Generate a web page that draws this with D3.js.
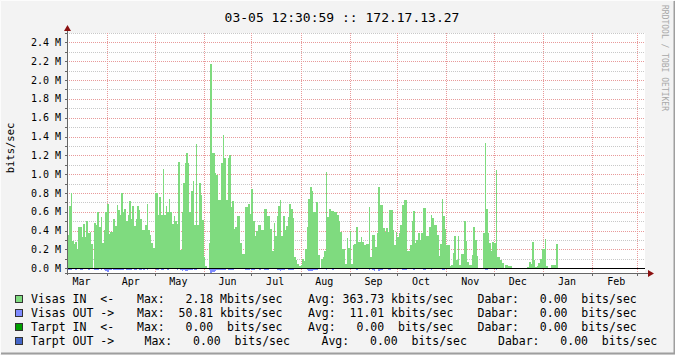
<!DOCTYPE html>
<html>
<head>
<meta charset="utf-8">
<script src="https://cdn.jsdelivr.net/npm/d3@7"></script>
<style>
body { margin: 0; background: #f3f3f3; }
svg { display: block; }
text { font-family: "DejaVu Sans Mono", monospace; }
</style>
</head>
<body>
<svg id="chart" width="675" height="355"></svg>
<script>
// daily averages in Mbit/s, one line per month, starting Mar 5
const visasIn = [
    0.35, 0.35, 0.35, 0.66, 0.80, 0.29, 0.26, 0.28, 0.21, 0.44, 0.44, 0.33, 0.47, 0.33, 0.50, 0.37, 0.39, 0.26, 0, 0.48, 0.46, 0.60, 0.44, 0.54, 0.27, 0.41, 0.60,
    0.68, 0.36, 0.39, 0.39, 0.52, 0.45, 0.67, 0.62, 0.57, 0.80, 0.60, 0.63, 0.50, 0.57, 0.72, 0.52, 0.66, 0.45, 0.52, 0.66, 0.62, 0.52, 0.41, 0.41, 0.46, 0.68, 0.41, 0.35, 0.27, 0.22,
    0.80, 0.80, 0.57, 0.76, 0.57, 1.05, 0.57, 0.66, 0.60, 0.74, 0.60, 0.47, 0.56, 0.50, 0.47, 1.13, 0.19, 0.60, 0.91, 1.12, 1.22, 1.12, 0.60, 0.82, 0.93, 0.46, 1.32, 0.46, 0.91, 0.78, 0.51,
    0.12, 0.02, 0, 0.27, 2.17, 1.22, 1.22, 1.01, 0.99, 0.73, 0.73, 1.12, 1.42, 1.17, 0.73, 1.17, 1.20, 0.65, 0.71, 0.42, 0.44, 0.56, 0.56, 0.27, 0.15, 0.15, 0.65, 0.65, 0.68, 0.58,
    0.84, 0.50, 0.34, 0.40, 0.46, 0.46, 0.41, 0.41, 0.63, 0.63, 0.56, 0.56, 0.42, 0.18, 0.48, 0.34, 0.56, 0.66, 0.73, 0.34, 0.56, 0.41, 0.45, 0.54, 0.68, 0.63, 0.53, 0.12, 0.09, 0.05, 0.02,
    0.03, 0.10, 0.08, 0.20, 0.44, 0.74, 0.86, 0.82, 0.60, 0.60, 0.70, 0.14, 0, 0.10, 0.12, 0.18, 1.02, 0.54, 0.63, 0.61, 0.61, 0.60, 0.60, 0.57, 0.50, 0.39, 0.20, 0.20, 0.05, 0.32, 0.22,
    0.40, 0.05, 0.25, 0.26, 0.44, 0.28, 0.28, 0.33, 0.28, 0.25, 0.26, 0.26, 0.65, 0.12, 0.35, 0.35, 0.23, 0.38, 0.86, 0.67, 0.67, 0.43, 0.39, 0.43, 0.39, 0.62, 0.62, 0.41, 0.25, 0.39,
    0.33, 0.37, 0.46, 0.67, 0.73, 0.73, 0.18, 0.18, 0.25, 0.50, 0.61, 0.27, 0.30, 0.37, 0.30, 0.37, 0.64, 0.64, 0.34, 0.34, 0.44, 0.57, 0.53, 0.46, 0.46, 0.35, 0.13, 0.26, 0.74, 0.56, 0.42,
    0.25, 0.25, 0.02, 0.04, 0.16, 0.34, 0.09, 0.34, 0.04, 0.15, 0.15, 0.50, 0.29, 0.07, 0.04, 0.04, 0.14, 0.44, 0.30, 0.13, 0, 0, 0, 0.37, 1.33, 0.63, 0.37, 0.27, 0.18, 0.28,
    0.27, 1.04, 0.12, 0.12, 0.09, 0.06, 0, 0.04, 0.04, 0.02, 0.02, 0, 0, 0, 0, 0, 0, 0, 0, 0, 0, 0.01, 0.07, 0.05, 0.28, 0.09, 0.01, 0.02, 0.06, 0.10, 0.21,
    0.21, 0.31, 0.02, 0, 0, 0.03, 0.03, 0.03, 0.26, 0
];
const visasOut = [
    0.015, 0.015, 0.018, 0.02, 0.015, 0.01, 0.012, 0.015, 0.008, 0.012, 0.015, 0.015, 0.01, 0.012, 0.01, 0.015, 0.012, 0.01, 0, 0.015, 0.015, 0.018, 0.012, 0.015, 0.012, 0.018, 0.03,
    0.035, 0.02, 0.015, 0.012, 0.018, 0.02, 0.015, 0.018, 0.02, 0.015, 0.018, 0.012, 0.015, 0.02, 0.018, 0.015, 0.012, 0.018, 0.02, 0.012, 0.015, 0.018, 0.012, 0.015, 0.01, 0.015, 0.012, 0.01, 0.012, 0.008,
    0.012, 0.02, 0.015, 0.012, 0.018, 0.015, 0.012, 0.01, 0.015, 0.012, 0.01, 0.012, 0.008, 0.01, 0.015, 0.008, 0.018, 0.025, 0.02, 0.03, 0.025, 0.02, 0.018, 0.015, 0.012, 0.02, 0.015, 0.012, 0.01, 0.008, 0.005,
    0.005, 0.005, 0, 0.02, 0.05, 0.035, 0.04, 0.03, 0.02, 0.015, 0.015, 0.018, 0.02, 0.018, 0.012, 0.015, 0.02, 0.015, 0.015, 0.012, 0.01, 0.012, 0.012, 0.01, 0.008, 0.008, 0.015, 0.015, 0.015, 0.012,
    0.02, 0.015, 0.012, 0.012, 0.012, 0.015, 0.012, 0.01, 0.015, 0.02, 0.015, 0.012, 0.01, 0.008, 0.012, 0.01, 0.015, 0.02, 0.025, 0.015, 0.015, 0.012, 0.012, 0.015, 0.02, 0.018, 0.015, 0.008, 0.005, 0.005, 0.005,
    0.005, 0.005, 0.005, 0.008, 0.015, 0.025, 0.03, 0.025, 0.02, 0.015, 0.018, 0.01, 0, 0.005, 0.005, 0.008, 0.02, 0.012, 0.012, 0.012, 0.015, 0.012, 0.012, 0.01, 0.01, 0.008, 0.005, 0.005, 0.003, 0.008, 0.005,
    0.008, 0.003, 0.008, 0.008, 0.015, 0.01, 0.008, 0.01, 0.008, 0.008, 0.008, 0.008, 0.015, 0.005, 0.02, 0.03, 0.008, 0.012, 0.025, 0.018, 0.015, 0.01, 0.012, 0.012, 0.02, 0.015, 0.012, 0.01, 0.008, 0.01,
    0.012, 0.01, 0.012, 0.015, 0.02, 0.02, 0.008, 0.008, 0.008, 0.012, 0.02, 0.008, 0.008, 0.01, 0.008, 0.01, 0.015, 0.015, 0.008, 0.008, 0.012, 0.015, 0.012, 0.012, 0.012, 0.01, 0.005, 0.008, 0.015, 0.015, 0.012,
    0.008, 0.008, 0.003, 0.003, 0.005, 0.01, 0.003, 0.01, 0.003, 0.005, 0.005, 0.012, 0.008, 0.003, 0.003, 0.003, 0.005, 0.012, 0.01, 0.005, 0, 0, 0, 0.012, 0.02, 0.015, 0.01, 0.008, 0.008, 0.01,
    0.008, 0.02, 0.005, 0.005, 0.003, 0.003, 0, 0, 0, 0, 0, 0, 0, 0, 0, 0, 0, 0, 0, 0, 0, 0, 0, 0, 0.005, 0, 0, 0, 0, 0.005, 0.01,
    0.012, 0.01, 0, 0, 0, 0, 0, 0, 0.003, 0
];
const monthLabels = ["Mar", "Apr", "May", "Jun", "Jul", "Aug", "Sep", "Oct", "Nov", "Dec", "Jan", "Feb"];
const yTicks = [0, 0.2, 0.4, 0.6, 0.8, 1.0, 1.2, 1.4, 1.6, 1.8, 2.0, 2.2, 2.4];
const yMinor = [0.1, 0.3, 0.5, 0.7, 0.9, 1.1, 1.3, 1.5, 1.7, 1.9, 2.1, 2.3, 2.5];

const legendLabels = ["Visas IN  <-", "Visas OUT ->", "Tarpt IN  <-", "Tarpt OUT ->"];
const legendColors = ["#7fdb7f", "#7f8bff", "#00a000", "#4466c8"];
const legendMax = ["Max:   2.18 Mbits/sec", "Max:  50.81 kbits/sec", "Max:   0.00  bits/sec", "Max:   0.00  bits/sec"];
const legendAvg = ["Avg: 363.73 kbits/sec", "Avg:  11.01 kbits/sec", "Avg:   0.00  bits/sec", "Avg:   0.00  bits/sec"];
const legendDabar = ["Dabar:   0.00  bits/sec", "Dabar:   0.00  bits/sec", "Dabar:   0.00  bits/sec", "Dabar:   0.00  bits/sec"];

const startDay = Date.UTC(2012, 2, 5);
const plot = { left: 67, right: 645, top: 33, bottom: 273 };

const svg = d3.select("#chart");

const x = d3.scaleUtc()
    .domain([new Date(Date.UTC(2012, 2, 5, 12, 30, 59)), new Date(Date.UTC(2013, 2, 5, 12, 30, 59))])
    .range([65, 644]);
const y = d3.scaleLinear().domain([-0.05, 2.5]).range([plot.bottom, plot.top]);

// keep runs of spaces in the monospace texts
const keep = s => s.replace(/ /g, "\u00a0");

// background and 3d frame
svg.append("rect").attr("width", 675).attr("height", 355).attr("fill", "#f3f3f3");
svg.append("path").attr("d", "M0.5,354V0.5H674").attr("stroke", "#fcfcfc").attr("fill", "none");
svg.append("path").attr("d", "M1,353.5H674.5V1").attr("stroke", "#9e9e9e").attr("stroke-width", 2).attr("fill", "none");

svg.append("rect")
    .attr("x", plot.left).attr("y", plot.top)
    .attr("width", plot.right - plot.left).attr("height", plot.bottom - plot.top)
    .attr("fill", "#fff");

svg.append("clipPath").attr("id", "clip")
    .append("rect")
    .attr("x", plot.left).attr("y", plot.top)
    .attr("width", plot.right - plot.left).attr("height", plot.bottom - plot.top);

// grid
const grid = svg.append("g").attr("shape-rendering", "crispEdges");
grid.selectAll(".minor")
    .data(yMinor)
    .enter().append("line")
    .attr("x1", plot.left).attr("x2", plot.right)
    .attr("y1", d => Math.round(y(d)) + 0.5).attr("y2", d => Math.round(y(d)) + 0.5)
    .attr("stroke", "#c8c8c8").attr("stroke-dasharray", "1,1");
grid.selectAll(".major")
    .data(yTicks.slice(1))
    .enter().append("line")
    .attr("x1", plot.left).attr("x2", plot.right)
    .attr("y1", d => Math.round(y(d)) + 0.5).attr("y2", d => Math.round(y(d)) + 0.5)
    .attr("stroke", "#e89a9a").attr("stroke-dasharray", "1,1");

const monthStarts = d3.utcMonth.range(x.domain()[0], x.domain()[1]);
grid.selectAll(".vgrid")
    .data(monthStarts)
    .enter().append("line")
    .attr("x1", d => Math.round(x(d)) + 0.5).attr("x2", d => Math.round(x(d)) + 0.5)
    .attr("y1", plot.top).attr("y2", plot.bottom)
    .attr("stroke", "#e89a9a").attr("stroke-dasharray", "1,1");

// data areas (daily steps)
function toSteps(values) {
    const pts = values.map((v, i) => ({ t: new Date(startDay + i * 864e5), v: v }));
    pts.push({ t: new Date(startDay + values.length * 864e5), v: values[values.length - 1] });
    return pts;
}

const g = svg.append("g").attr("clip-path", "url(#clip)");

g.append("path")
    .datum(toSteps(visasIn))
    .attr("fill", legendColors[0])
    .attr("shape-rendering", "crispEdges")
    .attr("d", d3.area()
        .x(d => x(d.t))
        .y0(y(0))
        .y1(d => y(d.v))
        .curve(d3.curveStepAfter));

g.append("path")
    .datum(toSteps(visasOut))
    .attr("fill", legendColors[1])
    .attr("shape-rendering", "crispEdges")
    .attr("d", d3.area()
        .x(d => x(d.t))
        .y0(y(0))
        .y1(d => y(-d.v))
        .curve(d3.curveStepAfter));

// zero rule
svg.append("line")
    .attr("x1", plot.left).attr("x2", plot.right)
    .attr("y1", Math.round(y(0)) + 0.5).attr("y2", Math.round(y(0)) + 0.5)
    .attr("stroke", "#000").attr("shape-rendering", "crispEdges");

// axes
const axis = svg.append("g").attr("shape-rendering", "crispEdges");
axis.append("line")
    .attr("x1", plot.left + 0.5).attr("x2", plot.left + 0.5)
    .attr("y1", plot.bottom + 2).attr("y2", 28)
    .attr("stroke", "#666");
axis.append("line")
    .attr("x1", plot.left - 2).attr("x2", 649)
    .attr("y1", plot.bottom + 0.5).attr("y2", plot.bottom + 0.5)
    .attr("stroke", "#666");
axis.selectAll(".ytick")
    .data(yTicks.concat(yMinor))
    .enter().append("line")
    .attr("x1", plot.left - 2).attr("x2", plot.left)
    .attr("y1", d => Math.round(y(d)) + 0.5).attr("y2", d => Math.round(y(d)) + 0.5)
    .attr("stroke", "#666");
axis.selectAll(".xtick")
    .data(monthStarts)
    .enter().append("line")
    .attr("x1", d => Math.round(x(d)) + 0.5).attr("x2", d => Math.round(x(d)) + 0.5)
    .attr("y1", plot.bottom).attr("y2", plot.bottom + 3)
    .attr("stroke", "#666");

svg.append("path")
    .attr("d", `M${plot.left - 3},31L${plot.left + 0.5},25L${plot.left + 4},31Z`)
    .attr("fill", "#8b1010");
svg.append("path")
    .attr("d", `M648,${plot.bottom - 3}L654,${plot.bottom + 0.5}L648,${plot.bottom + 4}Z`)
    .attr("fill", "#8b1010");

// axis labels
svg.selectAll(".ylab")
    .data(yTicks)
    .enter().append("text")
    .attr("x", 61)
    .attr("y", d => y(d) + 3.5)
    .attr("text-anchor", "end")
    .attr("font-size", 10)
    .text(d => keep(d.toFixed(1) + " M"));

const labelMonths = d3.utcMonth.range(new Date(Date.UTC(2012, 2, 1)), new Date(Date.UTC(2013, 2, 1)));
svg.selectAll(".xlab")
    .data(labelMonths)
    .enter().append("text")
    .attr("x", d => x(d3.utcDay.offset(d, 15)))
    .attr("y", 285)
    .attr("text-anchor", "middle")
    .attr("font-size", 10)
    .text((d, i) => monthLabels[i]);

svg.append("text")
    .attr("transform", "translate(14,148) rotate(-90)")
    .attr("text-anchor", "middle")
    .attr("font-size", 10.5)
    .text("bits/sec");

svg.append("text")
    .attr("x", 342).attr("y", 21.5)
    .attr("text-anchor", "middle")
    .attr("font-size", 13)
    .text("03-05 12:30:59 :: 172.17.13.27");

svg.append("text")
    .attr("transform", "translate(662,5) rotate(90)")
    .attr("font-size", 8)
    .attr("fill", "#a8a8a8")
    .text("RRDTOOL / TOBI OETIKER");

// legend
const rowY = [303, 317, 331, 345];
const colX = [
    [137, 308, 477.5],
    [137, 308, 477.5],
    [137, 308, 477.5],
    [144.5, 321.5, 498]
];
const legend = svg.append("g").attr("font-size", 11.5);
legendLabels.forEach((label, i) => {
    legend.append("rect")
        .attr("x", 15.5).attr("y", rowY[i] - 7.5)
        .attr("width", 7).attr("height", 7)
        .attr("fill", legendColors[i])
        .attr("stroke", "#333")
        .attr("shape-rendering", "crispEdges");
    legend.append("text").attr("x", 31).attr("y", rowY[i]).text(keep(label));
    legend.append("text").attr("x", colX[i][0]).attr("y", rowY[i]).text(keep(legendMax[i]));
    legend.append("text").attr("x", colX[i][1]).attr("y", rowY[i]).text(keep(legendAvg[i]));
    legend.append("text").attr("x", colX[i][2]).attr("y", rowY[i]).text(keep(legendDabar[i]));
});
</script>
</body>
</html>
